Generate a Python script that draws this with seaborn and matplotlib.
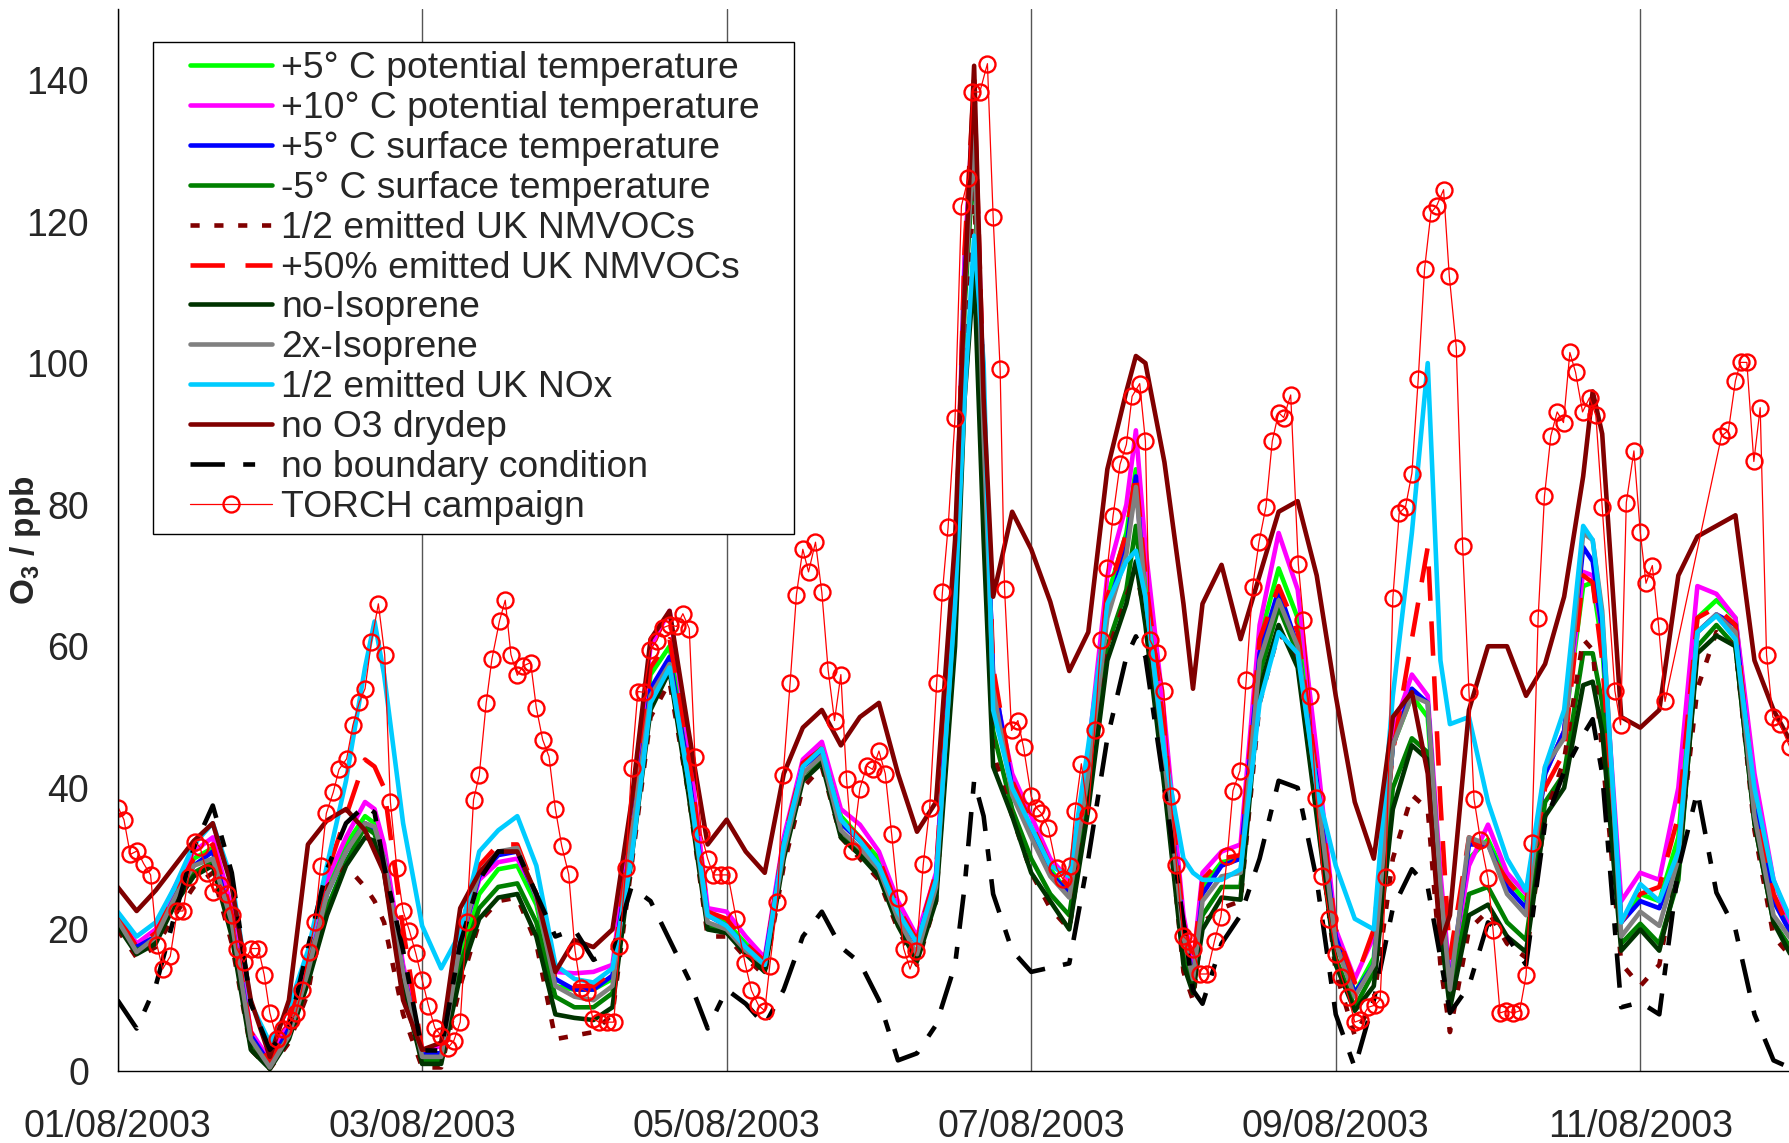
import matplotlib
matplotlib.use("Agg")
import matplotlib.pyplot as plt
from matplotlib.legend_handler import HandlerLine2D
from matplotlib.lines import Line2D
import seaborn as sns

# -----------------------------
# Data (hours after 01/08/2003 00:00)
# -----------------------------

HOURS = [0, 3, 6, 9, 12, 15, 18, 21,
         24, 27, 30, 33, 36, 39, 40.5, 42, 45,
         48, 51, 54, 57, 60, 63, 66, 69,
         72, 75, 78, 81, 84, 87, 90, 93,
         96, 99, 102, 105, 108, 111, 114, 117,
         120, 123, 126, 129, 132, 133.5, 135, 136.5, 138, 141,
         144, 147, 150, 153, 156, 159, 160.5, 162, 165,
         168, 169.5, 171, 174, 177, 180, 183, 186, 189,
         192, 195, 198, 201, 204, 206.5, 208.5, 210, 213,
         216, 219, 222, 225, 228, 231, 232.5, 234, 237,
         240, 243, 246, 249, 252, 255, 258, 261, 264]

POT_PLUS5 = [21.5, 17.5, 19, 25, 30, 31.5, 22, 5,
             1, 6, 14.5, 26, 32, 36, 35, 31, 14.5,
             2, 2, 16, 25, 28.5, 29, 23.5, 12,
             11.5, 11.5, 13, 34, 56, 60, 44, 22,
             21, 18, 15.5, 32.5, 43.5, 46, 36, 33,
             30, 23, 18, 27, 69, 114, 137, 93, 55, 41,
             34, 28.5, 25, 43, 67, 76, 85, 70, 47,
             21, 13, 26, 29.5, 30, 61, 71, 64, 42,
             19, 11, 16, 46, 53, 50, 25, 11.5, 30,
             32.7, 27, 24, 42, 48, 68.5, 69, 60, 21,
             25, 24, 33, 64, 66.5, 64, 40, 25, 19]

POT_PLUS10 = [22, 18, 20, 26, 31, 33, 23, 5.6,
              1.5, 7, 15, 27, 33, 38, 37, 32, 15,
              3, 3.5, 18, 27, 29.5, 30, 25, 14,
              13.8, 14, 15, 36, 60, 65, 46, 23,
              22.5, 19, 16, 33, 44, 46.5, 37, 34.8,
              31, 24, 19, 28, 70, 115, 138, 95, 55, 42,
              36, 30, 27, 45, 70, 80, 90.5, 74, 50,
              22, 15, 28, 31, 32, 63, 76, 68, 45,
              20, 13, 19, 48, 56, 53, 28, 13, 29,
              34.8, 28, 25, 42, 48, 70.5, 70, 62, 24,
              28, 27, 40, 68.5, 67.4, 64, 42, 27, 20]

SURF_PLUS5 = [21.5, 17.5, 19, 24.5, 29, 31, 21, 5,
              1, 6, 14, 25, 31, 35, 34, 30, 14,
              2.5, 2.5, 18, 27.5, 30.5, 31, 24.5, 13,
              11.5, 11.5, 13.5, 33, 54, 58.5, 42, 22,
              20.5, 17.5, 15.5, 32, 43, 45, 35, 32.5,
              29, 22, 18, 27, 68, 112, 134, 92, 56, 40,
              33.5, 28, 25, 42, 65, 74, 84, 66, 44,
              20, 13, 25, 29, 30, 59, 68, 60, 41,
              19, 11, 15, 46, 54, 52, 25, 12, 32,
              32, 26, 23, 42, 48, 74, 72, 62, 21,
              24, 23, 30, 62, 64.5, 63, 38, 24, 19]

SURF_MINUS5 = [21, 17, 18.5, 24, 28, 29.5, 20, 4,
               0.5, 5, 13, 23, 29.5, 34.5, 33.5, 29, 13,
               1.5, 1.5, 15, 23, 26, 26.5, 21, 10.5,
               9, 9, 11, 31, 52, 57, 40, 20.5,
               20, 17, 14.5, 31, 42, 44, 34, 31,
               28, 21, 16, 25, 65, 108, 130, 85, 48, 37,
               30, 25, 22, 40, 60, 68, 77, 64, 42,
               17, 12, 22, 26, 26, 56, 65.5, 59, 38,
               16, 9, 14, 40, 47, 45, 22, 9.5, 25,
               26, 21, 18.5, 38, 42, 59, 59, 52, 18,
               20.8, 18, 27, 60, 63, 60, 35, 21, 17]

HALF_NMVOC = [20, 16, 17.5, 22, 26, 28, 18, 3,
              0.3, 4, 11, 26, 29, 26, 24, 21, 8,
              0.5, 0.5, 12, 21, 24, 24.5, 18, 4.5,
              5, 5.5, 8, 29, 50, 55, 39, 19,
              19, 16, 13.5, 29, 40, 43, 33, 30,
              27, 20, 15, 24, 64, 100, 126, 80, 45, 36,
              28, 23, 20, 38, 59, 67, 71, 64, 42,
              14, 10, 21, 23, 24, 52, 62, 58, 37,
              14, 5, 10, 30, 39, 37, 15, 5.5, 20,
              22.6, 18, 16, 36, 44, 61, 59.5, 45, 15.2,
              12, 15, 30, 54, 62, 60, 34, 19, 15.9]

PLUS50_NMVOC = [22, 17.5, 19.5, 25, 30, 32, 22, 5.5,
                1, 7, 16, 28, 36, 44, 43, 40, 20,
                3, 3, 20, 29, 32, 32, 25, 13,
                12, 12, 14, 35, 57, 61, 45, 22.5,
                21.5, 18, 15.5, 32.5, 43.5, 45.5, 35.5, 33,
                30, 23, 18.5, 28, 70, 116, 140, 96, 57, 41,
                35, 29, 26, 44, 67, 76, 84.5, 70, 48,
                21, 15, 27, 30, 30.5, 61, 68.5, 62, 42,
                20, 12.5, 20, 45, 61, 74, 38, 16, 33,
                31, 27, 23.7, 40, 45, 70, 69, 58, 21,
                25, 26, 36, 64, 65.5, 63, 39, 25, 19]

NO_ISOPRENE = [20.5, 16.5, 18, 23.5, 27.5, 29, 19, 3,
               0.3, 4.5, 12.5, 22, 29, 33, 32.5, 28, 12,
               1, 1, 13.5, 21.5, 24.5, 25, 19, 8,
               7.5, 7.2, 9, 30, 51, 56.5, 39, 20,
               19.5, 16.5, 14, 30, 41, 43.5, 33, 30.5,
               27.5, 20.5, 15.5, 24, 60, 95, 113, 75, 43, 36,
               28, 24, 20, 37, 58, 66, 72, 63, 40,
               15, 11, 20, 24.5, 24.2, 54, 63, 57, 36,
               15, 8.5, 12, 37, 46, 44, 20, 8.8, 22,
               23.5, 19, 16.8, 36, 40, 54.5, 55, 48, 17,
               20, 17, 28, 59, 61.5, 60, 35, 21, 15.9]

ISOPRENE_2X = [21.3, 16.8, 18.9, 24.5, 29, 30, 21, 4.5,
               0.5, 5, 14, 25, 31, 35, 34.5, 30, 14,
               2, 2, 18, 28, 31, 31.5, 24.5, 12,
               10.5, 10, 12, 33, 53, 57.5, 41, 21,
               20, 17, 15, 31, 42, 44.5, 34, 31.5,
               28.5, 21.5, 16.5, 26, 67, 110, 132, 90, 54, 39,
               33, 27.5, 24.5, 42, 64, 73, 82.5, 67, 44,
               19, 13, 24, 27.5, 28, 58, 66.5, 60, 40,
               18, 10.5, 15, 46, 53, 52, 26, 11.5, 33,
               32, 25, 22, 43, 47, 76, 75, 65, 19,
               22.5, 20.5, 30, 62, 64.5, 62, 36, 22, 18.3]

HALF_NOX = [22.5, 19, 21, 26, 32, 35, 27, 9.5,
            4, 9, 17, 29, 41, 57, 63.5, 56, 35,
            20.5, 14.5, 19.5, 31, 34, 36, 29, 15,
            13, 12.5, 14.5, 30, 52, 57, 41, 22,
            20.5, 17.5, 15, 32, 43, 45.5, 35.5, 32.5,
            29, 22.5, 18, 27, 66, 95, 118, 100, 51, 40,
            34.5, 29, 27.5, 46, 66, 72, 73.5, 67, 45,
            30, 28, 27, 27, 28.5, 52, 62, 59, 40,
            29, 21.5, 20, 53, 76, 100, 58, 49, 50,
            38, 30, 25.5, 43, 51, 77, 75, 64, 21,
            26.4, 24, 31, 62, 64.3, 61, 40, 27, 20.8]

NO_DRYDEP = [26, 22.6, 25.5, 29, 32.5, 35, 26, 10,
             2, 10, 32, 35.4, 37, 34, 31, 28, 10,
             3, 4, 23, 28, 31, 31, 25, 14,
             18.5, 17.5, 20, 38, 61, 65, 48, 32,
             35.5, 31, 28, 42, 48.5, 51, 46, 50,
             52, 42, 33.8, 38, 75, 110, 142, 95, 67, 79,
             73.7, 66.3, 56.5, 62, 85, 96, 101, 100, 86,
             66, 54, 66, 71.5, 61, 70, 79, 80.5, 70,
             53, 38, 30, 50, 53.5, 42, 18, 22, 51,
             60, 60, 53, 57.5, 67, 84, 96, 90, 50,
             48.5, 51, 70, 75.5, 77, 78.5, 58, 51, 46]

NO_BOUNDARY = [10, 6, 12, 22, 31.5, 37.5, 28, 9.5,
               3, 6, 17.5, 28.5, 35, 37.5, 36.5, 29, 17,
               2.9, 2.9, 18, 27, 31, 31, 25, 19,
               20, 15.7, 17, 26, 24, 18.5, 13, 6,
               11.5, 9.5, 6.5, 11.5, 19, 22.5, 17.5, 15.3,
               10, 1.5, 2.5, 6.5, 15, 26, 41, 36, 25, 17,
               14, 14.6, 15.2, 30, 47, 58.5, 61.4, 58.5, 40,
               21, 11.4, 9.5, 18, 22, 30, 41, 40, 27,
               8, 0.5, 10, 23, 28.5, 26, 16, 8.2, 12,
               21, 19, 15, 35, 42.3, 47.5, 49.7, 42, 9,
               9.7, 8, 28.5, 39.5, 25.2, 20, 8, 1.5, 0.3]

TORCH_HOURS = [0.1, 1, 2, 3.1, 4.1, 5.2, 6.2, 7.1, 8.3, 9.4, 10.3, 11.2, 12.2, 13, 14.1,
               15.1, 16.2, 17.2, 18.1, 18.8, 19.9, 21.1, 22.2, 23.1, 24, 25.1, 26, 27.4,
               28.1, 29, 30.1, 31.1, 32, 32.9, 34, 34.9, 36.1, 37.1, 38.1, 39, 40, 41.1,
               42.1, 43, 44, 45, 46, 47, 48, 49, 50, 51, 52, 53, 54, 55, 56.1, 57, 58.1,
               59, 60.2, 61.1, 62, 63, 63.9, 65.1, 66, 67, 68, 69, 70, 71.1, 72.1, 73, 74,
               74.9, 75.9, 77.1, 78.2, 79.1, 80.1, 81, 82, 82.9, 83.9, 85, 85.9, 87.1,
               88.1, 89.1, 90.1, 91, 92, 93, 93.9, 95.1, 96.2, 97.5, 98.9, 99.9, 101,
               102, 102.8, 104, 104.9, 106, 107, 108, 108.9, 110, 111, 112, 113, 114,
               114.9, 115.8, 117, 118.1, 119, 120, 121, 122, 123, 123.9, 124.9, 125.9,
               127, 128, 129.1, 130, 130.9, 132, 133, 134.1, 134.7, 135.9, 137.1, 138,
               139.1, 139.8, 140.9, 141.9, 142.8, 144, 144.8, 145.6, 146.7, 148, 149,
               150.1, 150.9, 151.9, 153, 154, 155, 156, 156.9, 158, 159, 159.9, 161.1,
               162, 162.7, 163.8, 164.9, 166, 166.9, 167.9, 168.7, 169.5, 170.6, 171.7,
               172.9, 173.9, 174.9, 175.8, 176.9, 177.9, 178.9, 179.9, 181, 182, 183,
               183.8, 184.9, 186.1, 186.9, 187.9, 188.9, 189.9, 191, 192, 192.9, 194,
               195, 195.9, 197.1, 198.2, 199, 199.9, 201, 202, 203, 204, 205, 206, 207,
               207.9, 209, 209.9, 211, 212, 213, 213.8, 214.8, 216, 216.8, 217.9, 218.9,
               220, 221, 222, 222.9, 223.9, 224.9, 225.9, 226.9, 227.9, 228.9, 229.8,
               230.9, 232, 233, 234, 236, 236.9, 237.8, 239, 240, 240.9, 241.9, 242.9,
               243.9, 252.8, 253.9, 255, 255.8, 256.8, 257.9, 258.9, 259.9, 260.9, 262,
               263.6]

TORCH_O3 = [37.2, 35.5, 30.6, 31.1, 29.3, 27.7, 17.8, 14.4, 16.2, 22.6, 22.6, 27.4, 32.4, 31.6, 27.9,
            25.3, 26.3, 25, 22.1, 17.3, 15.4, 17.3, 17.3, 13.6, 8.2, 4.5, 5.9, 7.2,
            8.2, 11.4, 16.8, 21, 29, 36.4, 39.4, 42.6, 44.1, 48.9, 52.1, 54, 60.6, 66,
            58.8, 38, 28.7, 22.6, 19.8, 16.6, 12.9, 9.2, 6.1, 5, 3.2, 4.3, 6.9, 21, 38.3, 41.8, 52,
            58.2, 63.6, 66.5, 58.8, 55.9, 57.2, 57.7, 51.3, 46.8, 44.4, 37, 31.8, 27.8, 17, 11.7, 11.2,
            7.4, 6.9, 6.9, 6.9, 17.6, 28.7, 42.8, 53.6, 53.5, 59.4, 60.8, 62.6, 63,
            62.8, 64.6, 62.5, 44.4, 33.5, 30, 27.7, 27.7, 27.7, 21.5, 15.2, 11.4, 9.3,
            8.5, 14.9, 23.9, 41.8, 54.8, 67.3, 73.7, 70.5, 74.7, 67.6, 56.6, 49.5, 56,
            41.2, 31.1, 39.9, 43.1, 42.6, 45.2, 42, 33.5, 24.5, 17.3, 14.4, 17,
            29.3, 37.2, 54.8, 67.6, 76.8, 92.3, 122.2, 126.2, 138.3, 138.3, 142.3, 120.7,
            99.2, 68.1, 48.1, 49.5, 45.7, 38.8, 37.2, 36.4, 34.3, 28.7, 27.1,
            29, 36.7, 43.4, 36.2, 48.1, 60.9, 71.1, 78.4, 85.7, 88.5, 95.3, 97.1,
            89, 60.9, 59, 53.7, 38.8, 29.1, 19.1, 18.4, 17.3, 13.7, 13.7,
            18.4, 21.8, 30.3, 39.6, 42.4, 55.3, 68.4, 74.7, 79.7, 89, 93,
            92.3, 95.5, 71.6, 63.7, 53, 38.6, 27.5, 21.5, 16.5, 13.3, 10.4,
            6.9, 7.2, 9, 9.3, 10.1, 27.4, 66.8, 78.8, 79.7, 84.4, 97.7, 113.3, 121.2,
            122.2, 124.5, 112.3, 102.2, 74.2, 53.6, 38.4, 32.7, 27.2, 19.9, 8.2, 8.5,
            8.2, 8.5, 13.5, 32.2, 64, 81.2, 89.7, 93.1, 91.6, 101.5, 98.7,
            93.1, 95.1, 92.6, 79.7, 53.7, 48.9, 80.3, 87.6, 76.1, 68.9, 71.4, 62.8,
            52.2, 89.7, 90.5, 97.5, 100.1, 100.1, 86.1, 93.7, 58.8, 50, 49,
            45.7]

DATE_TICKS = [0, 48, 96, 144, 192, 240]
DATE_LABELS = ["01/08/2003", "03/08/2003", "05/08/2003",
               "07/08/2003", "09/08/2003", "11/08/2003"]

# -----------------------------
# Style
# -----------------------------

sns.set_style("white")
plt.rcParams["font.family"] = ["Liberation Sans", "DejaVu Sans"]
plt.rcParams["mathtext.fontset"] = "custom"
plt.rcParams["mathtext.rm"] = "Liberation Sans"
plt.rcParams["mathtext.bf"] = "Liberation Sans:bold"

fig = plt.figure(figsize=(17.9, 11.43), dpi=100)
ax = fig.add_axes([0.0657, 0.063, 0.9343, 0.929])

series = [
    ("+5° C potential temperature", POT_PLUS5, "#00FF00", "-"),
    ("+10° C potential temperature", POT_PLUS10, "#FF00FF", "-"),
    ("+5° C surface temperature", SURF_PLUS5, "#0000FF", "-"),
    ("-5° C surface temperature", SURF_MINUS5, "#008000", "-"),
    ("1/2 emitted UK NMVOCs", HALF_NMVOC, "#800000", (0, (2.0, 3.2))),
    ("+50% emitted UK NMVOCs", PLUS50_NMVOC, "#FF0000", (0, (7.5, 4.5))),
    ("no-Isoprene", NO_ISOPRENE, "#003300", "-"),
    ("2x-Isoprene", ISOPRENE_2X, "#808080", "-"),
    ("1/2 emitted UK NOx", HALF_NOX, "#00CCFF", "-"),
    ("no O3 drydep", NO_DRYDEP, "#800000", "-"),
    ("no boundary condition", NO_BOUNDARY, "#000000", (0, (7.5, 4.0, 2.6, 4.0))),
]

handles = []
labels = []

for label, values, color, style in series:
    sns.lineplot(
        x=HOURS,
        y=values,
        ax=ax,
        color=color,
        linewidth=3.3,
        linestyle=style,
        solid_joinstyle="round",
        estimator=None,
        sort=False,
        legend=False
    )
    handles.append(ax.lines[-1])
    labels.append(label)

sns.lineplot(
    x=TORCH_HOURS,
    y=TORCH_O3,
    ax=ax,
    color="#FF0000",
    linewidth=0.9,
    marker="o",
    markersize=11.5,
    markerfacecolor="none",
    markeredgecolor="#FF0000",
    markeredgewidth=1.7,
    estimator=None,
    sort=False,
    legend=False
)
handles.append(ax.lines[-1])
labels.append("TORCH campaign")

# -----------------------------
# Axes
# -----------------------------

ax.set_xlim(0, 263.6)
ax.set_ylim(0, 150)
ax.set_xticks(DATE_TICKS)
ax.set_xticklabels(DATE_LABELS)
ax.set_yticks(range(0, 141, 20))
ax.tick_params(axis="both", direction="out", length=8.5, width=1,
               color="black", labelsize=27)
ax.tick_params(axis="x", pad=19)
ax.tick_params(axis="y", pad=12)

ax.grid(axis="x", color="#555555", linewidth=1)
ax.grid(axis="y", visible=False)
ax.set_axisbelow(True)

sns.despine(ax=ax)
for side in ["left", "bottom"]:
    ax.spines[side].set_color("black")
    ax.spines[side].set_linewidth(1)

ax.set_xlabel("")
ax.set_ylabel(r"$\mathbf{O_3}$ / ppb", fontsize=24, fontweight="bold")
ax.yaxis.set_label_coords(-0.0444, 0.5)

leg = ax.legend(
    handles,
    labels,
    loc="upper left",
    bbox_to_anchor=(0.021, 0.469, 0.3836, 0.5),
    mode="expand",
    borderaxespad=0,
    borderpad=0.25,
    handlelength=2.95,
    handletextpad=0.25,
    labelspacing=0.13,
    fontsize=26.8,
    frameon=True,
    fancybox=False,
    framealpha=1,
    edgecolor="black",
    handler_map={Line2D: HandlerLine2D(xpad=0.76)}
)
leg.get_frame().set_linewidth(1)

fig.savefig("out.png", dpi=100)
plt.close(fig)
